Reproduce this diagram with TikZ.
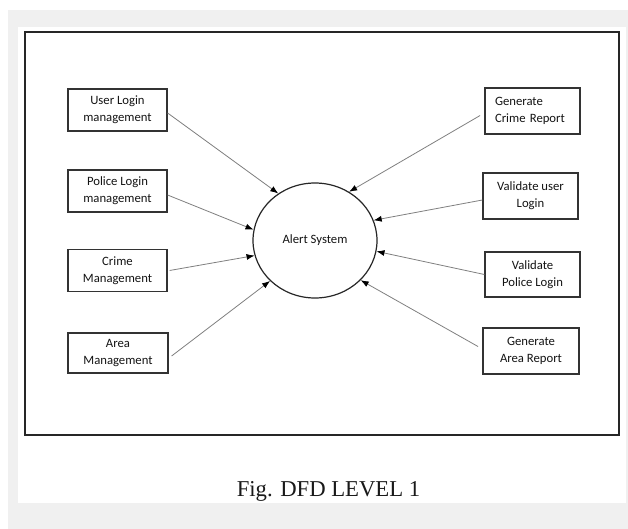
\documentclass[tikz,border=0pt]{standalone}
\usepackage{fontspec}
\setmainfont{Carlito}
\newfontfamily\captionfont{Liberation Serif}
\usetikzlibrary{shapes.geometric, arrows.meta}
\tikzstyle{box} = [rectangle, minimum width=99pt, minimum height=42pt, text centered, align=center, draw=black!80, line width=1.2pt, inner sep=2pt, font=\fontsize{12.7}{17}\selectfont, text=black!92]
\tikzstyle{leftBox} = [box, align=left, text width=75pt, inner xsep=10pt]
\tikzstyle{process} = [ellipse, minimum width=124pt, minimum height=115pt, inner sep=0pt, draw=black!85, line width=1.2pt, font=\fontsize{12.7}{17}\selectfont, text=black!92]
\tikzstyle{arrow} = [draw=black!50, line width=0.8pt, -{Latex[length=8pt,width=6pt,color=black]}]

\begin{document}
\begin{tikzpicture}[x=1pt, y=-1pt]
\useasboundingbox (0,0) rectangle (628,529);
% page background
\fill[black!6] (8,10) rectangle (628,529);
\fill[white] (18,27) rectangle (626,503);
\draw[black!85, line width=1.6pt] (25,32) rectangle (619,435);

\node (alert) [process] at (315,240.5) {Alert System};

\node (userLogin) [box] at (117.5,110) {User Login\\management};
\node (policeLogin) [box] at (117.5,191) {Police Login\\management};
\node (crimeMgmt) [box] at (117.5,270.5) {Crime\\Management};
\node (areaMgmt) [box, minimum width=100pt, minimum height=40pt] at (118,353) {Area\\Management};

\node (crimeReport) [leftBox, minimum width=95pt, minimum height=46pt] at (532.5,111) {Generate\\Crime Report};
\node (validateUser) [box, minimum width=95pt, minimum height=46pt] at (530.5,196) {Validate user\\Login};
\node (validatePolice) [box, minimum width=95pt, minimum height=45pt] at (532.5,274.5) {Validate\\Police Login};
\node (areaReport) [box, minimum width=96pt, minimum height=46pt] at (531,351) {Generate\\Area Report};

\draw [arrow] ([yshift=-3pt]userLogin.east) -- (alert.128);
\draw [arrow] ([yshift=-4pt]policeLogin.east) -- (alert.170);
\draw [arrow] ([xshift=2pt]crimeMgmt.east) -- (alert.194);
\draw [arrow] ([xshift=3pt,yshift=-3pt]areaMgmt.east) -- (alert.222);

\draw [arrow, shorten <=5pt] ([yshift=-2pt]crimeReport.west) -- (alert.55);
\draw [arrow] ([yshift=-4pt]validateUser.west) -- (alert.19);
\draw [arrow] (validatePolice.west) -- (alert.350);
\draw [arrow, shorten <=5pt] ([yshift=2pt]areaReport.west) -- (alert.319);

\node (caption) [anchor=base, font=\captionfont\fontsize{22.7}{27}\selectfont, text=black!90] at (328.5,496) {Fig. DFD LEVEL 1};
\end{tikzpicture}
\end{document}
